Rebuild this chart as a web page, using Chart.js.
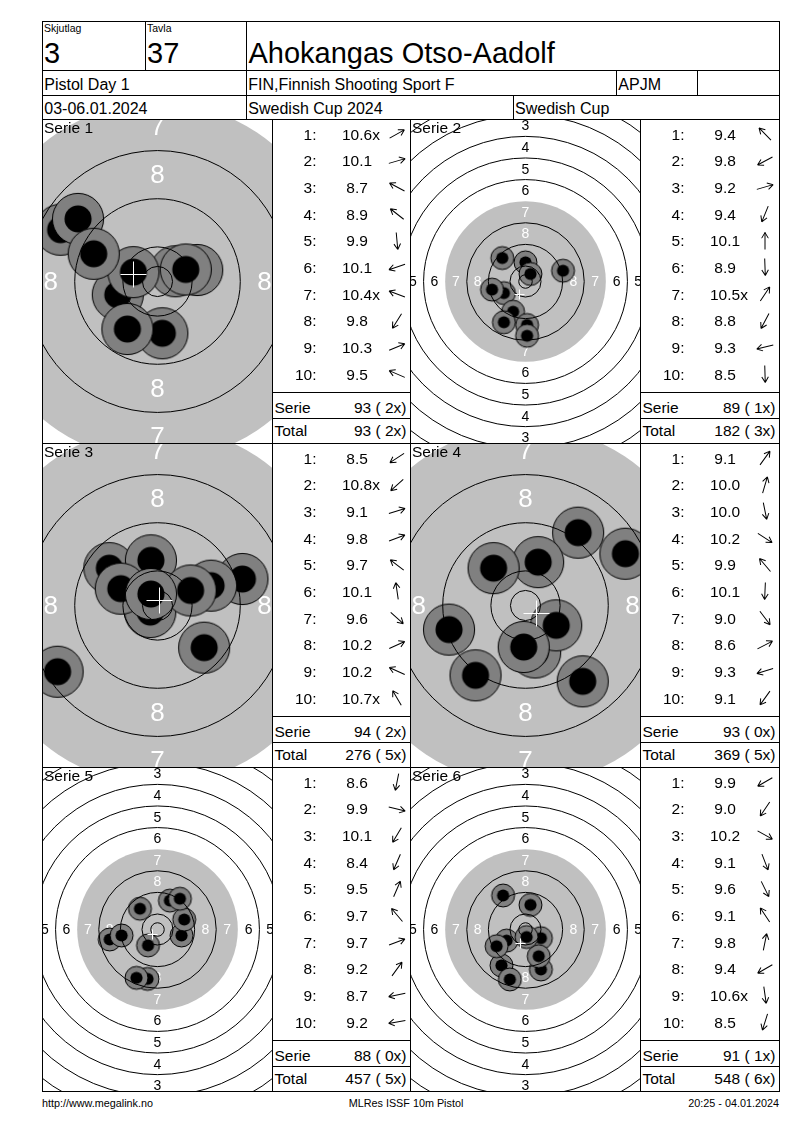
<!DOCTYPE html>
<html><head><meta charset="utf-8">
<script src="https://cdn.jsdelivr.net/npm/chart.js@4.4.1/dist/chart.umd.min.js"></script>
<style>
html,body{margin:0;padding:0;background:#fff;}
#page{position:relative;width:800px;height:1130px;overflow:hidden;font-family:"Liberation Sans",Arial,sans-serif;color:#000;}
.t{position:absolute;white-space:pre;line-height:1;}
.ln{position:absolute;background:#000;}
.box{position:absolute;}
.arr{position:absolute;width:24px;height:24px;overflow:visible;}
</style></head><body><div id="page"></div>
<script>
// ---------------- DATA ----------------
const hdrSquadLabel = 'Skjutlag', hdrSquad = '3';
const hdrTargetLabel = 'Tavla', hdrTarget = '37';
const hdrName = 'Ahokangas Otso-Aadolf';
const hdrEvent = 'Pistol Day 1', hdrClub = 'FIN,Finnish Shooting Sport F', hdrClass = 'APJM';
const hdrDate = '03-06.01.2024', hdrComp = 'Swedish Cup 2024', hdrComp2 = 'Swedish Cup';
const footLeft = 'http://www.megalink.no', footMid = 'MLRes ISSF 10m Pistol', footRight = '20:25 - 04.01.2024';

const serieNames = ['Serie 1','Serie 2','Serie 3','Serie 4','Serie 5','Serie 6'];
// shot positions in mm from target centre (x right, y up), in shot order
const serie1X = [3.0, 6.6, -16.1, -13.2, 0.8, -6.6, -4.0, -5.0, 4.7, -10.6];
const serie1Y = [1.7, 1.9, 8.6, 10.4, -8.6, -2.2, 1.55, -7.9, 2.0, 4.6];
const serie1Scores = ['10.6x','10.1','8.7','8.9','9.9','10.1','10.4x','9.8','10.3','9.5'];
const serie2X = [-8.6, -8.0, 13.9, -4.6, 0.0, 0.6, 1.85, -8.0, -12.4, 0.6];
const serie2Y = [8.7, -4.3, 4.0, -11.2, 7.1, -16.1, 2.8, -15.1, -3.0, -20.1];
const serie2Scores = ['9.4','9.8','9.2','9.4','10.1','8.9','10.5x','8.8','9.3','8.5'];
const serie3X = [-16.6, -1.2, 14.1, 8.9, -8.0, -1.1, 7.75, 5.5, -6.1, -1.1];
const serie3Y = [-11.0, -1.1, 4.4, 3.3, 6.2, 7.5, -7.0, 2.5, 2.8, 1.9];
const serie3Scores = ['8.5','10.8x','9.1','9.8','9.7','10.1','9.6','10.2','10.2','10.7x'];
const serie4X = [8.75, 2.1, 1.6, 5.1, -5.3, -0.3, 9.5, 16.6, -12.7, -8.3];
const serie4Y = [12.1, 7.2, -7.8, -3.3, 6.2, -6.9, -12.6, 8.6, -4.0, -11.6];
const serie4Scores = ['9.1','10.0','10.0','10.2','9.9','10.1','9.0','8.6','9.3','9.1'];
const serie5X = [-3.7, 8.9, -3.5, -7.8, 4.6, -6.5, 9.9, 8.3, -17.7, -13.3];
const serie5Y = [-18.3, -2.2, -5.9, -17.9, 10.7, 7.7, 3.7, 11.4, -3.7, -2.2];
const serie5Scores = ['8.6','9.9','10.1','8.4','9.5','9.7','9.7','9.2','8.7','9.2'];
const serie6X = [-7.0, -8.9, 5.7, 5.7, 4.9, -8.3, 1.85, -10.7, 0.4, -5.8];
const serie6Y = [-4.1, -13.3, -3.2, -14.8, -9.9, 12.6, 9.1, -6.2, -2.8, -18.5];
const serie6Scores = ['9.9','9.0','10.2','9.1','9.6','9.1','9.8','9.4','10.6x','8.5'];

const serieSum = [93, 89, 94, 93, 88, 91];
const serieInner = [2, 1, 2, 0, 0, 1];
const totalSum = [93, 182, 276, 369, 457, 548];
const totalInner = [2, 3, 5, 5, 5, 6];

// ISSF 10m air pistol ring radii (mm), rings 1..10, and inner ten
const ringRadiusMm = [77.75, 69.75, 61.75, 53.75, 45.75, 37.75, 29.75, 21.75, 13.75, 5.75];
const innerTenMm = 2.5;
const ringLabelTexts = ['1','2','3','4','5','6','7','8'];

// ---------------- STYLE / LAYOUT ----------------
const seriesX = [serie1X, serie2X, serie3X, serie4X, serie5X, serie6X];
const seriesY = [serie1Y, serie2Y, serie3Y, serie4Y, serie5Y, serie6Y];
const seriesScores = [serie1Scores, serie2Scores, serie3Scores, serie4Scores, serie5Scores, serie6Scores];
const targetView = [
  {ppm: 6.02, labelFont: 26, cross: 13},
  {ppm: 2.70, labelFont: 14, cross: 5},
  {ppm: 6.02, labelFont: 26, cross: 13},
  {ppm: 6.02, labelFont: 26, cross: 13},
  {ppm: 2.70, labelFont: 14, cross: 5},
  {ppm: 2.70, labelFont: 14, cross: 5}
];
const FONT = '"Liberation Sans", Arial, sans-serif';
const SVGNS = 'http://www.w3.org/2000/svg';
const page = document.getElementById('page');

function txt(s, left, baseline, fs, o) {
  o = o || {};
  const d = document.createElement('div');
  d.className = 't';
  d.textContent = s;
  d.style.fontSize = fs + 'px';
  d.style.top = (baseline - 0.8465 * fs) + 'px';
  if (o.right != null) d.style.right = (800 - o.right) + 'px';
  else if (o.center != null) { d.style.left = o.center + 'px'; d.style.transform = 'translateX(-50%)'; }
  else d.style.left = left + 'px';
  page.appendChild(d);
  return d;
}
function hline(x1, x2, y) {
  const d = document.createElement('div'); d.className = 'ln';
  d.style.left = x1 + 'px'; d.style.top = y + 'px'; d.style.width = (x2 - x1 + 1) + 'px'; d.style.height = '1px';
  page.appendChild(d);
}
function vline(x, y1, y2) {
  const d = document.createElement('div'); d.className = 'ln';
  d.style.left = x + 'px'; d.style.top = y1 + 'px'; d.style.width = '1px'; d.style.height = (y2 - y1 + 1) + 'px';
  page.appendChild(d);
}

// ---------------- HEADER ----------------
const L = 42, R = 779;
hline(L, R, 21); hline(L, R, 70); hline(L, R, 95);
vline(145, 21, 70); vline(246, 21, 119); vline(616, 70, 95); vline(697, 70, 95); vline(513, 95, 119);
txt(hdrSquadLabel, 44, 31.7, 10.5);
txt(hdrSquad, 44, 63.3, 29);
txt(hdrTargetLabel, 147, 31.7, 10.5);
txt(hdrTarget, 147, 63.3, 29);
txt(hdrName, 248.5, 63.3, 29);
txt(hdrEvent, 44.3, 90.6, 16);
txt(hdrClub, 248.3, 90.6, 16);
txt(hdrClass, 618.3, 90.6, 16);
txt(hdrDate, 44.3, 115, 16);
txt(hdrComp, 248.3, 115, 16);
txt(hdrComp2, 515, 115, 16);

// ---------------- PANELS ----------------
const rowTops = [119, 443, 767];
const bottomY = 1091;
rowTops.forEach(t => hline(L, R, t));
hline(L, R, bottomY);
vline(L, 21, bottomY); vline(R, 21, bottomY);
vline(272, 119, bottomY); vline(410, 119, bottomY); vline(640, 119, bottomY);

const panelCols = [{tL: 42, tR: 272, bL: 272, bR: 410}, {tL: 410, tR: 640, bL: 640, bR: 779}];

function ppmOf(chart) {
  const x = chart.scales.x;
  return Math.abs(x.getPixelForValue(1) - x.getPixelForValue(0));
}
const shotCache = {};
function shotImage(ppm) {
  const key = ppm.toFixed(3);
  if (shotCache[key]) return shotCache[key];
  const Ro = 4.25 * ppm, ri = 2.25 * ppm;
  const size = Math.ceil(Ro * 2 + 4);
  const c = document.createElement('canvas');
  c.width = size; c.height = size;
  const g = c.getContext('2d');
  g.beginPath(); g.arc(size / 2, size / 2, Ro, 0, Math.PI * 2);
  g.fillStyle = '#808080'; g.fill();
  g.lineWidth = 1; g.strokeStyle = '#000'; g.stroke();
  g.beginPath(); g.arc(size / 2, size / 2, ri, 0, Math.PI * 2);
  g.fillStyle = '#000'; g.fill();
  shotCache[key] = c;
  return c;
}
const targetPlugin = {
  id: 'target',
  beforeDatasetsDraw(chart, args, opts) {
    const {ctx, chartArea: a, scales: {x, y}} = chart;
    const cx = x.getPixelForValue(0), cy = y.getPixelForValue(0);
    const ppm = ppmOf(chart);
    ctx.save();
    ctx.beginPath(); ctx.rect(a.left, a.top, a.right - a.left, a.bottom - a.top); ctx.clip();
    ctx.fillStyle = '#fff'; ctx.fillRect(a.left, a.top, a.right - a.left, a.bottom - a.top);
    ctx.fillStyle = '#c0c0c0';
    ctx.beginPath(); ctx.arc(cx, cy, ringRadiusMm[6] * ppm, 0, Math.PI * 2); ctx.fill();
    ctx.font = opts.labelFont + 'px ' + FONT;
    ctx.textAlign = 'center'; ctx.textBaseline = 'middle';
    ringLabelTexts.forEach((lab, i) => {
      const rMid = (ringRadiusMm[i] + ringRadiusMm[i + 1]) / 2 * ppm;
      ctx.fillStyle = i >= 6 ? '#fff' : '#000';
      ctx.fillText(lab, cx - rMid, cy + 1);
      ctx.fillText(lab, cx + rMid, cy + 1);
      ctx.fillText(lab, cx, cy - rMid + 1);
      ctx.fillText(lab, cx, cy + rMid + 1);
    });
    ctx.restore();
  },
  afterDatasetsDraw(chart, args, opts) {
    const {ctx, chartArea: a, scales: {x, y}} = chart;
    const cx = x.getPixelForValue(0), cy = y.getPixelForValue(0);
    const ppm = ppmOf(chart);
    ctx.save();
    ctx.beginPath(); ctx.rect(a.left, a.top, a.right - a.left, a.bottom - a.top); ctx.clip();
    ctx.strokeStyle = '#000'; ctx.lineWidth = 1;
    ringRadiusMm.forEach((r, i) => {
      if (i === 6) return; // edge of the aiming black has no line
      ctx.beginPath(); ctx.arc(cx, cy, r * ppm, 0, Math.PI * 2); ctx.stroke();
    });
    ctx.beginPath(); ctx.arc(cx, cy, innerTenMm * ppm, 0, Math.PI * 2); ctx.stroke();
    // mean point of impact
    const pts = chart.data.datasets[0].data;
    const mx = pts.reduce((s, p) => s + p.x, 0) / pts.length;
    const my = pts.reduce((s, p) => s + p.y, 0) / pts.length;
    const px = Math.round(x.getPixelForValue(mx)) + 0.5, py = Math.round(y.getPixelForValue(my)) + 0.5;
    ctx.strokeStyle = '#fff';
    ctx.beginPath();
    ctx.moveTo(px - opts.cross, py); ctx.lineTo(px + opts.cross, py);
    ctx.moveTo(px, py - opts.cross); ctx.lineTo(px, py + opts.cross);
    ctx.stroke();
    ctx.restore();
  }
};

function makeTarget(i, left, top, w, h) {
  const v = targetView[i];
  const box = document.createElement('div');
  box.className = 'box';
  box.style.left = left + 'px'; box.style.top = top + 'px';
  box.style.width = w + 'px'; box.style.height = h + 'px';
  const cv = document.createElement('canvas');
  box.appendChild(cv);
  page.appendChild(box);
  const hx = w / 2 / v.ppm, hy = h / 2 / v.ppm;
  const pts = seriesX[i].map((xv, k) => ({x: xv, y: seriesY[i][k]}));
  new Chart(cv, {
    type: 'scatter',
    data: {datasets: [{
      data: pts,
      pointStyle: (c) => shotImage(ppmOf(c.chart)),
      pointRadius: 1, pointHoverRadius: 1, pointBorderWidth: 0, showLine: false, clip: 0
    }]},
    options: {
      responsive: true, maintainAspectRatio: false, animation: false, events: [],
      layout: {padding: 0, autoPadding: false},
      scales: {
        x: {type: 'linear', min: -hx, max: hx, bounds: 'data', display: false},
        y: {type: 'linear', min: -hy, max: hy, bounds: 'data', display: false}
      },
      plugins: {legend: {display: false}, tooltip: {enabled: false},
        target: {labelFont: v.labelFont, cross: v.cross}}
    },
    plugins: [targetPlugin]
  });
}

// direction arrow (shot direction from the centre)
function arrow(cx, cy, deg) {
  const s = document.createElementNS(SVGNS, 'svg');
  s.setAttribute('class', 'arr');
  s.setAttribute('viewBox', '-12 -12 24 24');
  s.style.left = (cx - 12) + 'px'; s.style.top = (cy - 12) + 'px';
  const g = document.createElementNS(SVGNS, 'g');
  g.setAttribute('transform', 'rotate(' + (-deg).toFixed(1) + ')');
  const p = document.createElementNS(SVGNS, 'path');
  p.setAttribute('d', 'M-8.5 0 L8.5 0 M8.5 0 L2.8 -3.3 M8.5 0 L2.8 3.3');
  p.setAttribute('stroke', '#000'); p.setAttribute('stroke-width', '1'); p.setAttribute('fill', 'none');
  g.appendChild(p); s.appendChild(g); page.appendChild(s);
}

function makeTable(i, left, right, top) {
  hline(left, right, top + 273);
  hline(left, right, top + 299);
  const sc = seriesScores[i];
  for (let k = 0; k < sc.length; k++) {
    const base = top + 20.7 + k * 26.67;
    txt((k + 1) + ':', 0, base, 15.5, {right: left + 44.5});
    const s = sc[k];
    txt((parseFloat(s) < 10 ? ' ' : '') + s, left + 70, base, 15.5);
    const ang = Math.atan2(seriesY[i][k], seriesX[i][k]) * 180 / Math.PI;
    arrow(left + 124.5, base - 5.6, ang);
  }
  txt('Serie', left + 2.5, top + 294, 15.5);
  txt(serieSum[i] + ' ( ' + serieInner[i] + 'x)', 0, top + 294, 15.5, {right: right - 3.5});
  txt('Total', left + 2.5, top + 317.3, 15.5);
  txt(totalSum[i] + ' ( ' + totalInner[i] + 'x)', 0, top + 317.3, 15.5, {right: right - 3.5});
}

for (let i = 0; i < 6; i++) {
  const row = Math.floor(i / 2), col = i % 2;
  const top = rowTops[row];
  const pc = panelCols[col];
  makeTarget(i, pc.tL + 1, top + 1, pc.tR - pc.tL - 1, 323);
  txt(serieNames[i], pc.tL + 2, top + 14, 15.5);
  makeTable(i, pc.bL, pc.bR, top);
}

// ---------------- FOOTER ----------------
txt(footLeft, 42, 1107, 10.8);
txt(footMid, 0, 1107, 10.8, {center: 406});
txt(footRight, 0, 1107, 10.8, {right: 779});
</script></body></html>
